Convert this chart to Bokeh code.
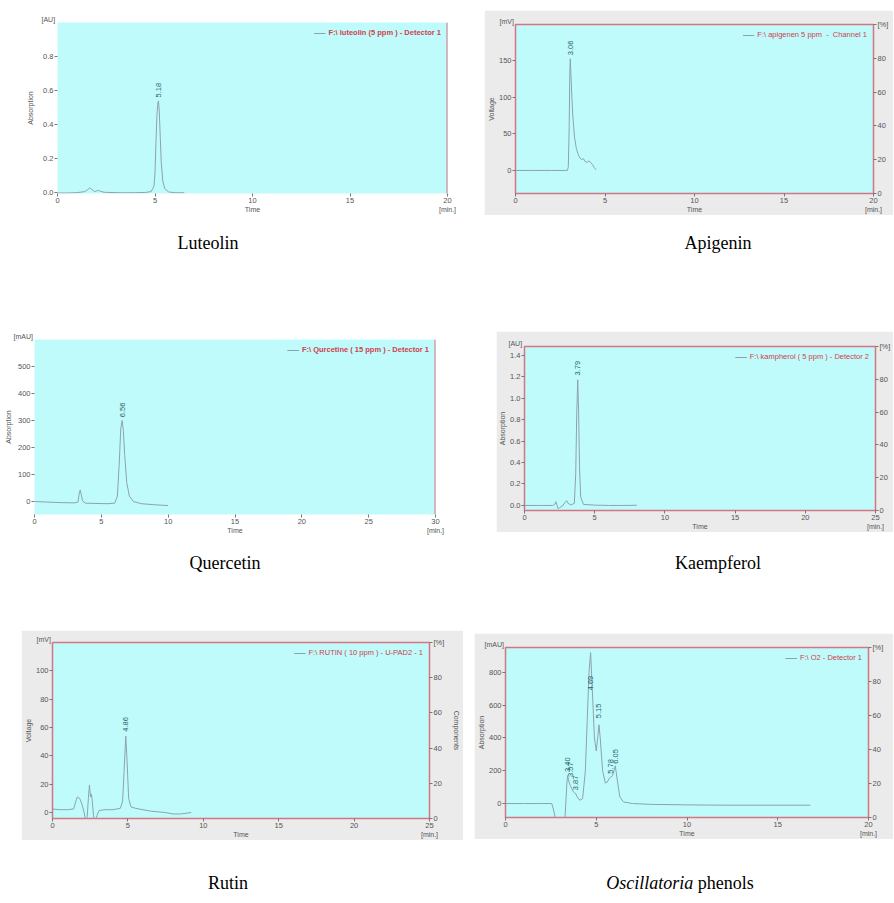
from math import pi
from bokeh.plotting import figure
from bokeh.models import (Range1d, LinearAxis, Span, Spacer, Div, FixedTicker,
                          PrintfTickFormatter)
from bokeh.layouts import row, column
from bokeh.embed import file_html
from bokeh.resources import INLINE
from bokeh.core.properties import value

# ---------------- data ----------------
lut_t = [0, 0.5, 1.0, 1.4, 1.55, 1.65, 1.75, 1.9, 2.0, 2.1, 2.2, 2.4, 3.0, 3.5, 4.0, 4.5, 4.8, 4.95,
         5.0, 5.05, 5.1, 5.15, 5.18, 5.22, 5.27, 5.32, 5.4, 5.5, 5.7, 6.0, 6.5]
lut_y = [0, 0, 0.002, 0.008, 0.02, 0.03, 0.022, 0.008, 0.012, 0.015, 0.01, 0.004, 0.002, 0.001, 0.002,
         0.003, 0.008, 0.04, 0.12, 0.3, 0.46, 0.53, 0.54, 0.48, 0.33, 0.18, 0.07, 0.025, 0.006, 0.002, 0.001]
lut_peaks = ["5.18"]
lut_peak_t = [5.18]
lut_label_y = [0.56]

api_t = [0, 1.0, 2.0, 2.9, 2.95, 3.0, 3.03, 3.06, 3.1, 3.15, 3.2, 3.3, 3.4, 3.5, 3.6, 3.7, 3.8, 3.9,
         4.0, 4.1, 4.2, 4.3, 4.4, 4.5]
api_y = [0, 0, 0, 0, 5, 60, 130, 153, 130, 100, 75, 45, 30, 22, 17, 15, 16, 12, 11, 13, 11, 8, 4, 1]
api_peaks = ["3.06"]
api_peak_t = [3.06]
api_label_y = [158]

que_t = [0, 1, 2, 3, 3.25, 3.35, 3.42, 3.5, 3.6, 3.8, 4.5, 5.5, 6.0, 6.2, 6.35, 6.45, 6.56, 6.65,
         6.75, 6.9, 7.1, 7.4, 8, 9, 10]
que_y = [0, -2, -4, -5, -2, 30, 43, 25, 2, -6, -7, -8, -6, 20, 150, 270, 300, 260, 170, 70, 20, 0,
         -8, -12, -15]
que_peaks = ["6.56"]
que_peak_t = [6.56]
que_label_y = [312]

kae_t = [0, 1, 2, 2.15, 2.24, 2.32, 2.4, 2.5, 2.7, 2.9, 3.0, 3.1, 3.3, 3.55, 3.65, 3.72, 3.79, 3.85,
         3.92, 4.0, 4.2, 5, 6, 7, 8]
kae_y = [0, 0, 0, 0.01, 0.035, 0.0, -0.033, -0.02, -0.005, 0.03, 0.045, 0.02, 0.005, 0.02, 0.3, 0.85,
         1.17, 0.9, 0.35, 0.08, 0.01, 0.003, 0.0, 0.0, 0.002]
kae_peaks = ["3.79"]
kae_peak_t = [3.79]
kae_label_y = [1.21]

rut_t = [0, 0.5, 1.0, 1.4, 1.55, 1.65, 1.8, 1.95, 2.1, 2.2, 2.3, 2.38, 2.45, 2.52, 2.58, 2.64, 2.72,
         2.8, 2.95, 3.1, 3.5, 4.0, 4.5, 4.65, 4.75, 4.86, 4.95, 5.05, 5.2, 5.5, 6, 6.5, 7, 7.5, 8,
         8.5, 9.2]
rut_y = [2.5, 2, 2, 2.5, 8, 11, 10, 6, 0, -6, -3, 10, 19.5, 11, 13, 8, -2, -7, -2, 1.5, 2, 2, 3, 8,
         30, 54, 35, 10, 4, 3, 2, 1, 0.5, 0, -1, -1, 0]
rut_peaks = ["4.86"]
rut_peak_t = [4.86]
rut_label_y = [57]

osc_t = [0, 1, 2, 2.55, 2.65, 2.75, 2.85, 3.25, 3.32, 3.38, 3.42, 3.5, 3.57, 3.65, 3.75, 3.87, 3.95,
         4.1, 4.25, 4.4, 4.5, 4.6, 4.69, 4.78, 4.9, 5.0, 5.08, 5.15, 5.22, 5.35, 5.5, 5.6, 5.7, 5.78,
         5.9, 6.05, 6.15, 6.3, 6.5, 7, 8, 10, 12, 14, 16.8]
osc_y = [0, 0, 0, 0, -40, -90, -150, -150, 0, 120, 170, 130, 110, 90, 70, 60, 40, 20, 30, 200, 500,
         800, 920, 700, 400, 320, 400, 480, 400, 200, 125, 130, 150, 160, 170, 230, 150, 40, 10, 0,
         -5, -8, -10, -10, -10]
osc_peaks = ["3.40", "3.57", "3.87", "4.69", "5.15", "5.78", "6.05"]
osc_peak_t = [3.40, 3.57, 3.87, 4.69, 5.15, 5.78, 6.05]
osc_label_y = [192, 162, 81, 690, 520, 182, 243]

captions = ["Luteolin", "Apigenin", "Quercetin", "Kaempferol", "Rutin", "<i>Oscillatoria</i> phenols"]

# ---------------- styling ----------------
CYAN = "#c0fbfb"
GRAY = "#ebebeb"
RED = "#d27683"
LEG_RED = "#d0404e"
CURVE = "#8da1b4"
PEAKC = "#2c5f6c"
TICKC = "#555555"
SANS = "Liberation Sans"


def style_axis(a):
    a.axis_line_color = None
    a.major_tick_line_color = "#777777"
    a.major_tick_out = 3
    a.major_tick_in = 0
    a.minor_tick_line_color = None
    a.major_label_standoff = 1
    a.axis_label_standoff = 1
    a.major_label_text_font = SANS
    a.major_label_text_font_size = "7.5px"
    a.major_label_text_color = TICKC
    a.axis_label_text_font = SANS
    a.axis_label_text_font_size = "7px"
    a.axis_label_text_font_style = "normal"
    a.axis_label_text_color = TICKC


def make_panel(t, y, peaks, peak_t, label_y, legend_text, legend_bold, x_end, x_ticks,
               y_start, y_end, y_ticks, unit, unit_w, y_title, y_fmt, right_axis, right_title,
               frame_w, frame_h, left, top, right, bottom, gray, full_outline, ylab_gap=1):
    w = left + frame_w + right
    h = top + frame_h + bottom
    p = figure(width=w, height=h, x_range=Range1d(0, x_end), y_range=Range1d(y_start, y_end),
               output_backend="svg", toolbar_location=None,
               min_border_left=left, min_border_right=right, min_border_top=top,
               min_border_bottom=bottom,
               background_fill_color=CYAN, border_fill_color=GRAY if gray else "white",
               outline_line_color=RED if full_outline else None, outline_line_width=1.5)
    p.grid.visible = False

    # unit of the value axis, written at the top left corner of the frame
    p.title.text = unit
    p.title.align = "left"
    p.title.offset = -(unit_w + 2)
    p.title.standoff = 0
    p.title.vertical_align = "bottom"
    p.title.text_font = SANS
    p.title.text_font_size = "7px"
    p.title.text_font_style = "normal"
    p.title.text_color = TICKC

    xa = p.below[0]
    ya = p.left[0]
    xa.ticker = FixedTicker(ticks=x_ticks)
    ya.ticker = FixedTicker(ticks=y_ticks)
    if y_fmt:
        ya.formatter = PrintfTickFormatter(format=y_fmt)
    ya.axis_label = y_title
    style_axis(xa)
    style_axis(ya)
    ya.axis_label_standoff = ylab_gap

    # second row under the time axis: "Time" in the middle, "[min.]" under the last tick
    xa2 = LinearAxis(ticker=FixedTicker(ticks=[x_end / 2, x_end]),
                     major_label_overrides={x_end / 2: "Time", x_end: "[min.]"})
    style_axis(xa2)
    xa2.major_tick_line_color = None
    xa2.major_tick_out = 0
    xa2.major_label_standoff = 0
    xa2.major_label_text_font_size = "7px"
    p.add_layout(xa2, "below")

    if right_axis:
        p.extra_y_ranges = {"pct": Range1d(0, 100)}
        ax = LinearAxis(y_range_name="pct", ticker=FixedTicker(ticks=[0, 20, 40, 60, 80, 100]),
                        major_label_overrides={100: "[%]"})
        style_axis(ax)
        if right_title:
            ax.axis_label = right_title
            ax.axis_label_standoff = 6
        p.add_layout(ax, "right")

    p.line(t, y, line_color=CURVE, line_width=1, legend_label=legend_text)
    p.text(x=peak_t, y=label_y, text=peaks, angle=pi / 2, text_align="left",
           text_baseline="middle", text_font=value(SANS), text_font_size="7.5px",
           text_color=PEAKC)

    lg = p.legend[0]
    lg.location = "top_right"
    lg.background_fill_alpha = 0
    lg.border_line_alpha = 0
    lg.label_text_color = LEG_RED
    lg.label_text_font = SANS
    lg.label_text_font_size = "7.5px"
    lg.label_text_font_style = "bold" if legend_bold else "normal"
    lg.glyph_width = 12
    lg.glyph_height = 8
    lg.label_standoff = 3
    lg.padding = 2
    lg.margin = 4
    lg.label_height = 8

    if not full_outline:
        p.add_layout(Span(location=x_end, dimension="height", line_color=RED, line_width=2))
    return p


p1 = make_panel(lut_t, lut_y, lut_peaks, lut_peak_t, lut_label_y,
                "F:\\ luteolin (5 ppm ) - Detector 1", True, 20, [0, 5, 10, 15, 20],
                -0.003, 1.0, [0, 0.2, 0.4, 0.6, 0.8], "[AU]", 14, "Absorption", "%.1f", False, None,
                390, 171, 57, 14, 23, 24, False, False, ylab_gap=6)
p2 = make_panel(api_t, api_y, api_peaks, api_peak_t, api_label_y,
                "F:\\ apigenen 5 ppm  -  Channel 1", False, 20, [0, 5, 10, 15, 20],
                -31.6, 200, [0, 50, 100, 150], "[mV]", 14, "Voltage", None, True, None,
                361, 169, 28, 14, 20, 22, True, True)
p3 = make_panel(que_t, que_y, que_peaks, que_peak_t, que_label_y,
                "F:\\ Qurcetine ( 15 ppm ) - Detector 1", True, 30, [0, 5, 10, 15, 20, 25, 30],
                -48, 600, [0, 100, 200, 300, 400, 500], "[mAU]", 19, "Absorption", None, False, None,
                401, 175, 34, 14, 45, 24, False, False, ylab_gap=3)
p4 = make_panel(kae_t, kae_y, kae_peaks, kae_peak_t, kae_label_y,
                "F:\\ kampherol ( 5 ppm ) - Detector 2", False, 25, [0, 5, 10, 15, 20, 25],
                -0.047, 1.48, [0, 0.2, 0.4, 0.6, 0.8, 1.0, 1.2, 1.4], "[AU]", 14, "Absorption", "%.1f",
                True, None, 357, 164, 26, 15, 14, 22, True, True)
p5 = make_panel(rut_t, rut_y, rut_peaks, rut_peak_t, rut_label_y,
                "F:\\ RUTIN ( 10 ppm ) - U-PAD2 - 1", False, 25, [0, 5, 10, 15, 20, 25],
                -4.2, 120, [0, 20, 40, 60, 80, 100], "[mV]", 14, "Voltage", None, True, "Components",
                379, 176, 31, 12, 32, 22, True, True)
p6 = make_panel(osc_t, osc_y, osc_peaks, osc_peak_t, osc_label_y,
                "F:\\ O2 - Detector 1", False, 20, [0, 5, 10, 15, 20],
                -85, 951, [0, 200, 400, 600, 800], "[mAU]", 19, "Absorption", None, True, None,
                365, 170, 29, 14, 25, 22, True, True)


def cap(html):
    return Div(text=html, width=200, height=20, margin=(0, 0, 0, 0),
               styles={"font-family": "Liberation Serif", "font-size": "18px",
                       "text-align": "center", "line-height": "20px", "color": "#000000"})


def sp(w=0, h=0):
    return Spacer(width=w, height=h, margin=(0, 0, 0, 0))


layout = column(
    sp(h=8),
    row(p1, sp(w=14), column(sp(h=2), p2)),
    sp(h=16),
    row(sp(w=108), cap(captions[0]), sp(w=310), cap(captions[1])),
    sp(h=72),
    row(p3, sp(w=16), column(sp(h=6), p4)),
    sp(h=15),
    row(sp(w=125), cap(captions[2]), sp(w=293), cap(captions[3])),
    sp(h=57),
    row(sp(w=21), p5, sp(w=11), column(sp(h=3), p6)),
    sp(h=33),
    row(sp(w=128), cap(captions[4]), sp(w=252), cap(captions[5])),
)

with open("out.html", "w") as f:
    f.write(file_html(layout, INLINE))
